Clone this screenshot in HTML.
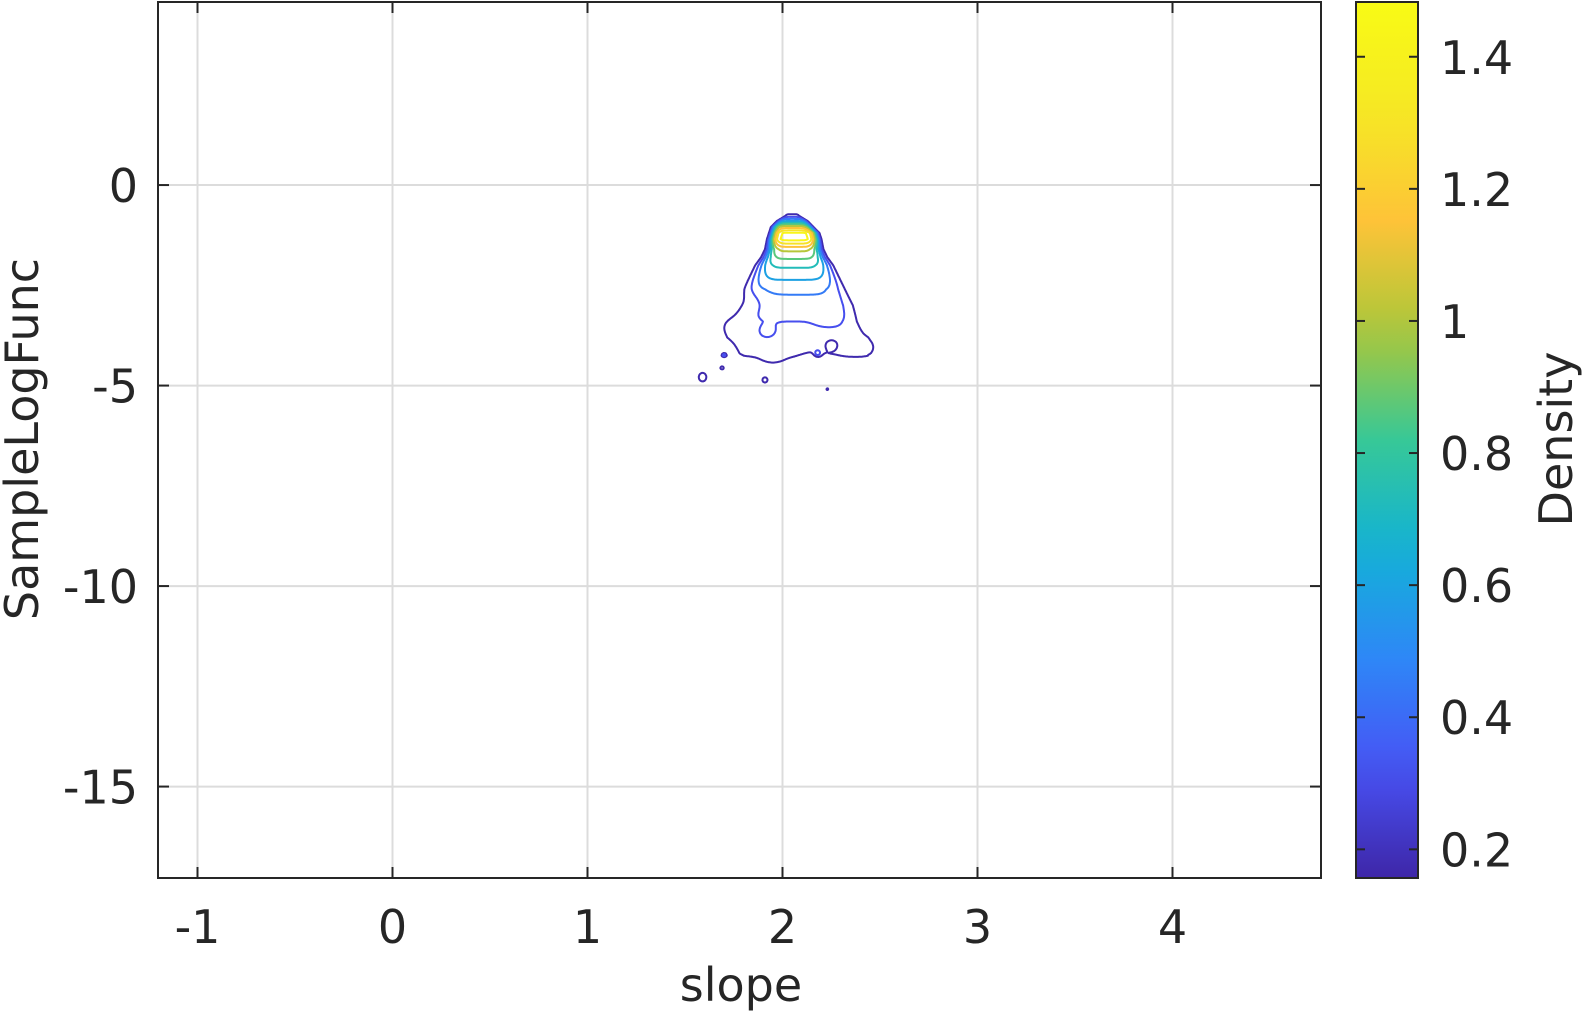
<!DOCTYPE html>
<html><head><meta charset="utf-8">
<style>
html,body{margin:0;padding:0;background:#fff;}
svg{display:block;font-family:"DejaVu Sans","Liberation Sans",sans-serif;}
</style></head>
<body>
<svg id="chart" width="1582" height="1013" viewBox="0 0 1582 1013">
  <g id="grid"></g>
  <g id="contours"></g>
  <g id="axes"></g>
  <g id="cbar"></g>
  <text x="741" y="1001" font-size="46" fill="#262626" text-anchor="middle">slope</text>
  <text transform="translate(38,439) rotate(-90)" font-size="46" fill="#262626" text-anchor="middle">SampleLogFunc</text>
  <text transform="translate(1572,439) rotate(-90)" font-size="46" fill="#262626" text-anchor="middle">Density</text>
</svg>
<script>
// ---- data ----
const xTicks = [-1, 0, 1, 2, 3, 4];
const yTicks = [0, -5, -10, -15];
const cbTicks = [0.2, 0.4, 0.6, 0.8, 1, 1.2, 1.4];
const cbTickLabels = ["0.2", "0.4", "0.6", "0.8", "1", "1.2", "1.4"];
const levels = [0.17, 0.31, 0.45, 0.59, 0.73, 0.87, 1.01, 1.15, 1.29, 1.43];
// vertical density profile
const profY  = [-0.55, -0.75, -0.9, -1.05, -1.2, -1.35, -1.6, -1.8, -2.0, -2.3, -2.6, -3.0, -3.4, -3.8, -4.2, -4.5, -4.8];
const profA  = [0.02, 0.19, 0.6, 1.1, 1.46, 1.48, 1.05, 0.9, 0.76, 0.62, 0.48, 0.39, 0.31, 0.26, 0.2, 0.1, 0.0];
const profHW = [0.02, 0.03, 0.08, 0.11, 0.13, 0.14, 0.15, 0.17, 0.2, 0.23, 0.26, 0.29, 0.31, 0.34, 0.3, 0.15, 0.1];
const profC  = [2.05, 2.05, 2.05, 2.05, 2.06, 2.06, 2.06, 2.06, 2.06, 2.06, 2.06, 2.07, 2.07, 2.08, 2.08, 2.05, 2.05];
// local bumps / isolated blobs
const bumpX   = [1.59, 1.69, 1.70, 1.91, 2.23, 2.18, 2.42, 1.72, 2.15, 1.95, 2.25, 1.85, 1.92, 2.25];
const bumpY   = [-4.79, -4.56, -4.24, -4.86, -5.09, -4.19, -4.05, -3.5, -4.35, -4.3, -3.3, -2.9, -3.7, -3.9];
const bumpSX  = [0.018, 0.008, 0.007, 0.012, 0.004, 0.012, 0.05, 0.05, 0.04, 0.04, 0.05, 0.05, 0.04, 0.05];
const bumpSY  = [0.10, 0.035, 0.03, 0.06, 0.02, 0.06, 0.15, 0.2, 0.12, 0.12, 0.2, 0.2, 0.15, 0.2];
const bumpAmp = [0.30, 0.30, 0.30, 0.30, 0.30, 0.25, 0.12, 0.1, -0.1, 0.08, 0.08, -0.08, 0.06, -0.08];

// ---- axes ----
const X0 = 158, X1 = 1321, Y0 = 2, Y1 = 878;
const xMin = -1.2026, xMax = 4.7615, yMin = -17.28, yMax = 4.565;
const sx = v => X0 + (v - xMin) / (xMax - xMin) * (X1 - X0);
const sy = v => Y1 - (v - yMin) / (yMax - yMin) * (Y1 - Y0);
const CB0 = 1356, CB1 = 1418, cMin = 0.1566, cMax = 1.4829;
const cy = v => Y1 - (v - cMin) / (cMax - cMin) * (Y1 - Y0);
const NS = "http://www.w3.org/2000/svg";
function mk(tag, attrs, parent) {
  const e = document.createElementNS(NS, tag);
  for (const k in attrs) e.setAttribute(k, attrs[k]);
  parent.appendChild(e); return e;
}
const parulaStops = [[62,38,168],[72,82,244],[46,135,247],[18,177,214],[55,200,151],[171,199,57],[254,195,56],[245,232,36],[249,251,21]];
function parula(t) {
  t = Math.max(0, Math.min(1, t)) * (parulaStops.length - 1);
  const i = Math.min(Math.floor(t), parulaStops.length - 2), f = t - i;
  const a = parulaStops[i], b = parulaStops[i + 1];
  return "rgb(" + a.map((v, k) => Math.round(v + (b[k] - v) * f)).join(",") + ")";
}

const grid = document.getElementById('grid');
xTicks.forEach(v => {
  const l = mk('line', {x1: sx(v), x2: sx(v), y1: Y0, y2: Y1, stroke: '#dcdcdc', 'stroke-width': 2}, grid);
  
  
});
yTicks.forEach(v => {
  const l = mk('line', {x1: X0, x2: X1, y1: sy(v), y2: sy(v), stroke: '#dcdcdc', 'stroke-width': 2}, grid);
  
  
});

// ---- density + contours (marching squares) ----
function prof(arr, y) {
  if (y >= profY[0]) return arr[0];
  for (let k = 0; k < profY.length - 1; k++) {
    if (y <= profY[k] && y >= profY[k + 1]) {
      const t = (profY[k] - y) / (profY[k] - profY[k + 1]);
      return arr[k] + (arr[k + 1] - arr[k]) * t;
    }
  }
  return arr[arr.length - 1];
}
const P = 6;
function dens(x, y) {
  const A = prof(profA, y), hw = prof(profHW, y), c = prof(profC, y);
  const W = hw / Math.pow(2 * Math.log(Math.max(A, 0.18) / 0.17), 1 / P);
  const u = Math.abs((x - c) / W);
  let s = A * Math.exp(-0.5 * Math.pow(u, P));
  for (let i = 0; i < bumpX.length; i++) {
    const dx = (x - bumpX[i]) / bumpSX[i], dy = (y - bumpY[i]) / bumpSY[i];
    s += bumpAmp[i] * Math.exp(-0.5 * (dx * dx + dy * dy));
  }
  return s;
}
const gx0 = 1.4, gx1 = 2.7, gy0 = -5.3, gy1 = -0.4, nx = 300, ny = 300;
const F = [];
for (let j = 0; j <= ny; j++) {
  const row = [];
  for (let i = 0; i <= nx; i++) row.push(dens(gx0 + (gx1 - gx0) * i / nx, gy0 + (gy1 - gy0) * j / ny));
  F.push(row);
}
const cont = document.getElementById('contours');
levels.forEach(L => {
  let d = "";
  const px = i => sx(gx0 + (gx1 - gx0) * i / nx), py = j => sy(gy0 + (gy1 - gy0) * j / ny);
  for (let j = 0; j < ny; j++) for (let i = 0; i < nx; i++) {
    const a = F[j][i], b = F[j][i + 1], c = F[j + 1][i + 1], e = F[j + 1][i];
    const pts = [];
    const edge = (v1, v2, x1, y1, x2, y2) => {
      if ((v1 < L) !== (v2 < L)) { const t = (L - v1) / (v2 - v1); pts.push([x1 + (x2 - x1) * t, y1 + (y2 - y1) * t]); }
    };
    edge(a, b, px(i), py(j), px(i + 1), py(j));
    edge(b, c, px(i + 1), py(j), px(i + 1), py(j + 1));
    edge(c, e, px(i + 1), py(j + 1), px(i), py(j + 1));
    edge(e, a, px(i), py(j + 1), px(i), py(j));
    for (let k = 0; k + 1 < pts.length; k += 2)
      d += "M" + pts[k][0].toFixed(1) + " " + pts[k][1].toFixed(1) + "L" + pts[k + 1][0].toFixed(1) + " " + pts[k + 1][1].toFixed(1);
  }
  const p = mk('path', {d: d, fill: 'none', stroke: parula((L - cMin) / (cMax - cMin)), 'stroke-width': 2, 'stroke-linecap': 'round'}, cont);
  
  
});

// ---- axes frame & ticks ----
const ax = document.getElementById('axes');
mk('rect', {x: X0, y: Y0, width: X1 - X0, height: Y1 - Y0, fill: 'none', stroke: '#262626', 'stroke-width': 2}, ax);
xTicks.forEach(v => {
  mk('line', {x1: sx(v), x2: sx(v), y1: Y1, y2: Y1 - 11, stroke: '#262626', 'stroke-width': 2}, ax);
  mk('line', {x1: sx(v), x2: sx(v), y1: Y0, y2: Y0 + 11, stroke: '#262626', 'stroke-width': 2}, ax);
  const t = mk('text', {x: sx(v), y: 943, 'font-size': 46, fill: '#262626', 'text-anchor': 'middle'}, ax);
  t.textContent = v;
  
  
});
yTicks.forEach(v => {
  mk('line', {x1: X0, x2: X0 + 11, y1: sy(v), y2: sy(v), stroke: '#262626', 'stroke-width': 2}, ax);
  mk('line', {x1: X1, x2: X1 - 11, y1: sy(v), y2: sy(v), stroke: '#262626', 'stroke-width': 2}, ax);
  const t = mk('text', {x: 138, y: sy(v) + 17, 'font-size': 46, fill: '#262626', 'text-anchor': 'end'}, ax);
  t.textContent = v;
  
  
});

// ---- colorbar ----
const cb = document.getElementById('cbar');
const defs = mk('defs', {}, cb);
const g = mk('linearGradient', {id: 'pg', x1: 0, y1: 1, x2: 0, y2: 0}, defs);
for (let k = 0; k <= 20; k++) mk('stop', {offset: k / 20, 'stop-color': parula(k / 20)}, g);
const cr = mk('rect', {x: CB0, y: Y0, width: CB1 - CB0, height: Y1 - Y0, fill: 'url(#pg)', stroke: '#262626', 'stroke-width': 2}, cb);


cbTicks.forEach((v, i) => {
  mk('line', {x1: CB1, x2: CB1 - 9, y1: cy(v), y2: cy(v), stroke: '#262626', 'stroke-width': 2}, cb);
  mk('line', {x1: CB0, x2: CB0 + 9, y1: cy(v), y2: cy(v), stroke: '#262626', 'stroke-width': 2}, cb);
  const t = mk('text', {x: 1440, y: cy(v) + 17, 'font-size': 46, fill: '#262626'}, cb);
  t.textContent = cbTickLabels[i];
  
  
});
</script>
</body></html>
